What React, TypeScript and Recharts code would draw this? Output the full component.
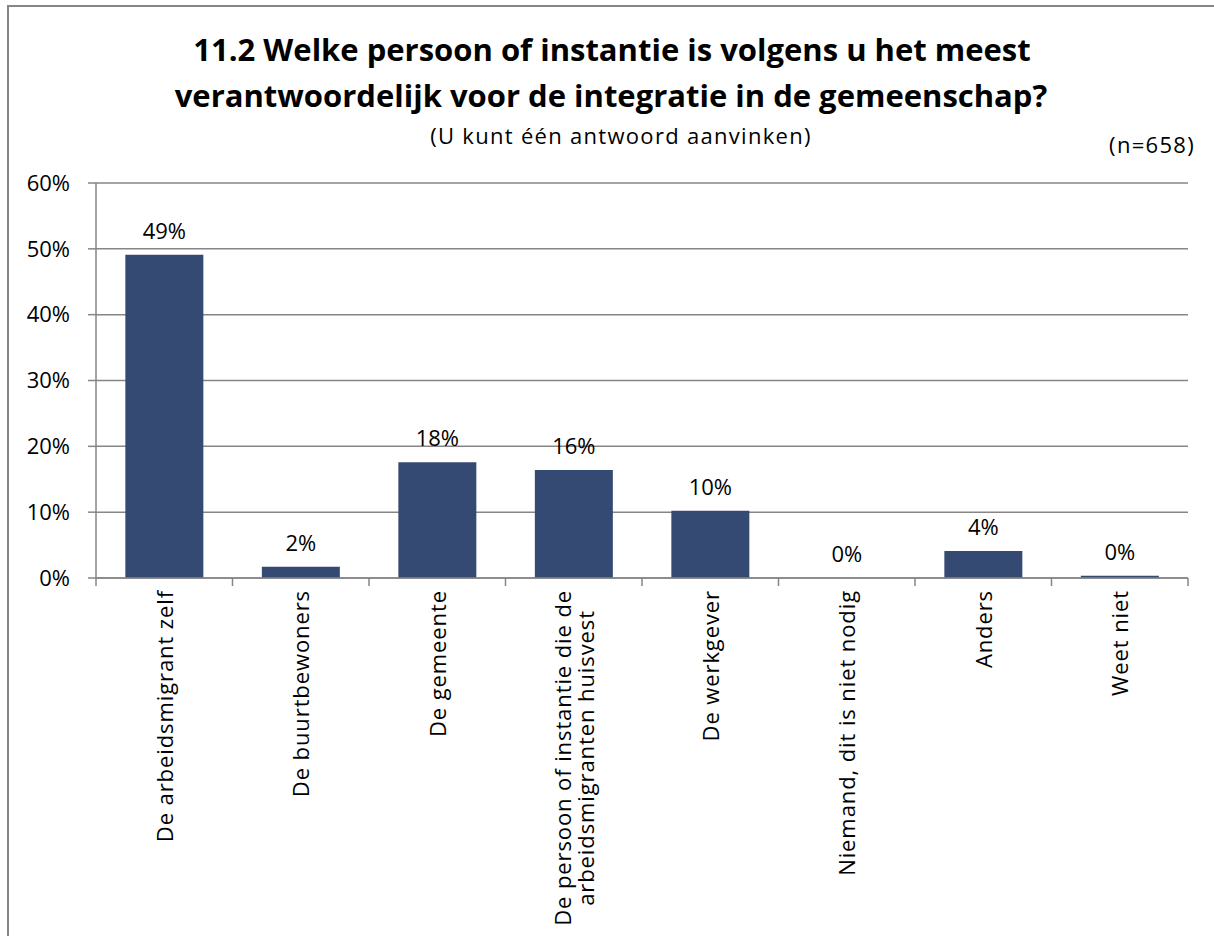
import React from "react"
import { BarChart, Bar, XAxis, YAxis, CartesianGrid, LabelList } from "recharts"

// categorieën en percentages
const categories = [
  "De arbeidsmigrant zelf",
  "De buurtbewoners",
  "De gemeente",
  "De persoon of instantie die de\narbeidsmigranten huisvest",
  "De werkgever",
  "Niemand, dit is niet nodig",
  "Anders",
  "Weet niet",
]
const percentages = [49.1, 1.7, 17.6, 16.4, 10.2, 0, 4.1, 0.35]
const yTicks = [0, 10, 20, 30, 40, 50, 60]

const titleLines = [
  "11.2 Welke persoon of instantie is volgens u het meest",
  "verantwoordelijk voor de integratie in de gemeenschap?",
]
const subtitle = "(U kunt één antwoord aanvinken)"
const sampleNote = "(n=658)"

const W = 1214
const H = 936
const PLOT_LEFT = 96
const PLOT_RIGHT = 1188
const PLOT_TOP = 183
const PLOT_BOTTOM = 578
const GRAY = "#868686"
const BAR = "#354A72"
const FONT = "'Open Sans', sans-serif"

const data = categories.map((name, i) => ({ name, value: percentages[i] }))
const halfBand = (PLOT_RIGHT - PLOT_LEFT) / categories.length / 2

function CategoryTick(props: any) {
  const { x, payload, index } = props
  const last = index === categories.length - 1
  return (
    <g>
      <line x1={x - halfBand} x2={x - halfBand} y1={PLOT_BOTTOM} y2={PLOT_BOTTOM + 8} stroke={GRAY} strokeWidth={1.5} />
      {last && (
        <line x1={x + halfBand} x2={x + halfBand} y1={PLOT_BOTTOM} y2={PLOT_BOTTOM + 8} stroke={GRAY} strokeWidth={1.5} />
      )}
      <foreignObject x={x - 100} y={PLOT_BOTTOM + 12} width={200} height={H - PLOT_BOTTOM - 12}>
        <div style={{ display: "flex", justifyContent: "center", alignItems: "flex-start", height: "100%" }}>
          <div
            style={{
              writingMode: "vertical-rl",
              transform: "rotate(180deg)",
              textAlign: "center",
              whiteSpace: "pre",
              fontFamily: FONT,
              fontSize: 22,
              letterSpacing: 0.9,
              lineHeight: "23px",
              color: "#000",
            }}
          >
            {payload.value}
          </div>
        </div>
      </foreignObject>
    </g>
  )
}

export default function App() {
  return (
    <div style={{ position: "absolute", left: 0, top: 0, width: W, height: H, background: "#fff", overflow: "hidden" }}>
      <div
        style={{
          position: "absolute",
          left: 7,
          top: 5,
          width: W,
          height: H,
          borderLeft: `2px solid ${GRAY}`,
          borderTop: `2px solid ${GRAY}`,
        }}
      />
      <svg width={W} height={200} style={{ position: "absolute", left: 0, top: 0 }}>
        <text x={612} y={61} textAnchor="middle" fontFamily={FONT} fontWeight="bold" fontSize={31}>
          {titleLines[0]}
        </text>
        <text x={611} y={107} textAnchor="middle" fontFamily={FONT} fontWeight="bold" fontSize={31}>
          {titleLines[1]}
        </text>
        <text x={621} y={144} textAnchor="middle" fontFamily={FONT} fontSize={22} letterSpacing={1.3}>
          {subtitle}
        </text>
        <text x={1195} y={153} textAnchor="end" fontFamily={FONT} fontSize={22} letterSpacing={1.3}>
          {sampleNote}
        </text>
      </svg>
      <div style={{ position: "absolute", left: 0, top: 0 }}>
        <BarChart
          width={W}
          height={H}
          data={data}
          margin={{ top: PLOT_TOP, right: W - PLOT_RIGHT, left: 0, bottom: 0 }}
          barCategoryGap="21.5%"
        >
          <CartesianGrid vertical={false} stroke={GRAY} strokeWidth={1.5} />
          <XAxis
            dataKey="name"
            interval={0}
            height={H - PLOT_BOTTOM}
            tickLine={false}
            axisLine={{ stroke: GRAY, strokeWidth: 1.5 }}
            tick={<CategoryTick />}
          />
          <YAxis
            width={PLOT_LEFT}
            domain={[0, 60]}
            ticks={yTicks}
            tickFormatter={(v: number) => `${v}%`}
            tickSize={8}
            tickMargin={18}
            tickLine={{ stroke: GRAY, strokeWidth: 1.5 }}
            axisLine={{ stroke: GRAY, strokeWidth: 1.5 }}
            tick={{ fill: "#000", fontSize: 22, fontFamily: FONT }}
          />
          <Bar
            dataKey="value"
            fill={BAR}
            isAnimationActive={false}
            minPointSize={(v: number) => (v === 0 ? 0.01 : 0)}
          >
            <LabelList
              dataKey="value"
              position="top"
              offset={16}
              formatter={(v: any) => `${Math.round(Number(v))}%`}
              style={{ fill: "#000", fontSize: 22, fontFamily: FONT }}
            />
          </Bar>
        </BarChart>
      </div>
    </div>
  )
}
